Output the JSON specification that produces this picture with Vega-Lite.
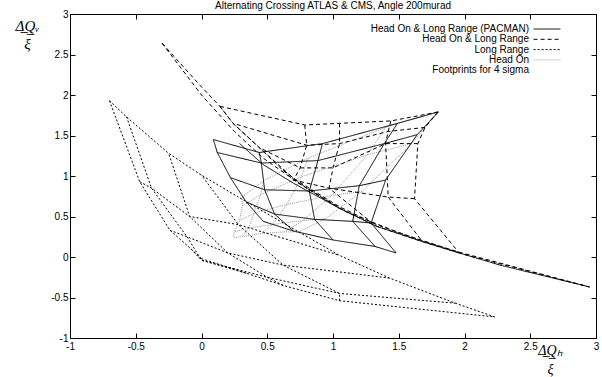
{
  "$schema": "https://vega.github.io/schema/vega-lite/v6.json",
  "width": 526,
  "height": 324,
  "autosize": {"type": "none"},
  "padding": {"left": 70, "top": 14, "right": 6, "bottom": 39},
  "background": "white",
  "config": {
    "view": {"stroke": "black", "strokeWidth": 1},
    "font": "Liberation Sans",
    "axis": {"grid": false, "domain": false, "tickColor": "black", "tickSize": -5, "labelFont": "Liberation Sans", "labelFontSize": 10, "labelColor": "black", "labelFlush": false, "labelOverlap": false, "format": "~g"}
  },
  "title": {"text": "Alternating Crossing ATLAS & CMS, Angle 200murad", "font": "Liberation Sans", "fontSize": 10, "fontWeight": "normal", "offset": -2},
  "datasets": {
    "fp": [
      {"s":"H","l":"Hc0","o":0,"x":1.80,"y":1.80},{"s":"H","l":"Hc0","o":1,"x":1.60,"y":1.40},{"s":"H","l":"Hc0","o":2,"x":1.22,"y":0.81},{"s":"H","l":"Hc0","o":3,"x":0.94,"y":0.47},{"s":"H","l":"Hc0","o":4,"x":0.74,"y":0.31},
      {"s":"H","l":"Hc1","o":0,"x":1.40,"y":1.60},{"s":"H","l":"Hc1","o":1,"x":1.26,"y":1.26},{"s":"H","l":"Hc1","o":2,"x":0.99,"y":0.76},{"s":"H","l":"Hc1","o":3,"x":0.77,"y":0.45},{"s":"H","l":"Hc1","o":4,"x":0.63,"y":0.31},
      {"s":"H","l":"Hc2","o":0,"x":0.81,"y":1.22},{"s":"H","l":"Hc2","o":1,"x":0.76,"y":0.99},{"s":"H","l":"Hc2","o":2,"x":0.65,"y":0.65},{"s":"H","l":"Hc2","o":3,"x":0.54,"y":0.40},{"s":"H","l":"Hc2","o":4,"x":0.45,"y":0.29},
      {"s":"H","l":"Hc3","o":0,"x":0.47,"y":0.94},{"s":"H","l":"Hc3","o":1,"x":0.45,"y":0.77},{"s":"H","l":"Hc3","o":2,"x":0.40,"y":0.54},{"s":"H","l":"Hc3","o":3,"x":0.36,"y":0.36},{"s":"H","l":"Hc3","o":4,"x":0.31,"y":0.25},
      {"s":"H","l":"Hc4","o":0,"x":0.31,"y":0.74},{"s":"H","l":"Hc4","o":1,"x":0.31,"y":0.63},{"s":"H","l":"Hc4","o":2,"x":0.29,"y":0.45},{"s":"H","l":"Hc4","o":3,"x":0.25,"y":0.31},{"s":"H","l":"Hc4","o":4,"x":0.24,"y":0.24},
      {"s":"H","l":"Hr0","o":0,"x":1.80,"y":1.80},{"s":"H","l":"Hr0","o":1,"x":1.40,"y":1.60},{"s":"H","l":"Hr0","o":2,"x":0.81,"y":1.22},{"s":"H","l":"Hr0","o":3,"x":0.47,"y":0.94},{"s":"H","l":"Hr0","o":4,"x":0.31,"y":0.74},
      {"s":"H","l":"Hr1","o":0,"x":1.60,"y":1.40},{"s":"H","l":"Hr1","o":1,"x":1.26,"y":1.26},{"s":"H","l":"Hr1","o":2,"x":0.76,"y":0.99},{"s":"H","l":"Hr1","o":3,"x":0.45,"y":0.77},{"s":"H","l":"Hr1","o":4,"x":0.31,"y":0.63},
      {"s":"H","l":"Hr2","o":0,"x":1.22,"y":0.81},{"s":"H","l":"Hr2","o":1,"x":0.99,"y":0.76},{"s":"H","l":"Hr2","o":2,"x":0.65,"y":0.65},{"s":"H","l":"Hr2","o":3,"x":0.40,"y":0.54},{"s":"H","l":"Hr2","o":4,"x":0.29,"y":0.45},
      {"s":"H","l":"Hr3","o":0,"x":0.94,"y":0.47},{"s":"H","l":"Hr3","o":1,"x":0.77,"y":0.45},{"s":"H","l":"Hr3","o":2,"x":0.54,"y":0.40},{"s":"H","l":"Hr3","o":3,"x":0.36,"y":0.36},{"s":"H","l":"Hr3","o":4,"x":0.25,"y":0.31},
      {"s":"H","l":"Hr4","o":0,"x":0.74,"y":0.31},{"s":"H","l":"Hr4","o":1,"x":0.63,"y":0.31},{"s":"H","l":"Hr4","o":2,"x":0.45,"y":0.29},{"s":"H","l":"Hr4","o":3,"x":0.31,"y":0.25},{"s":"H","l":"Hr4","o":4,"x":0.24,"y":0.24},

      {"s":"L","l":"Lc0","o":0,"x":0.00,"y":-0.02},{"s":"L","l":"Lc0","o":1,"x":0.34,"y":-0.20},{"s":"L","l":"Lc0","o":2,"x":0.62,"y":-0.35},{"s":"L","l":"Lc0","o":3,"x":1.05,"y":-0.54},{"s":"L","l":"Lc0","o":4,"x":2.23,"y":-0.74},
      {"s":"L","l":"Lc1","o":0,"x":-0.08,"y":0.10},{"s":"L","l":"Lc1","o":1,"x":0.00,"y":-0.04},{"s":"L","l":"Lc1","o":2,"x":0.50,"y":-0.25},{"s":"L","l":"Lc1","o":3,"x":1.05,"y":-0.45},{"s":"L","l":"Lc1","o":4,"x":1.93,"y":-0.57},
      {"s":"L","l":"Lc2","o":0,"x":-0.24,"y":0.33},{"s":"L","l":"Lc2","o":1,"x":-0.11,"y":0.25},{"s":"L","l":"Lc2","o":2,"x":0.20,"y":0.05},{"s":"L","l":"Lc2","o":3,"x":0.62,"y":-0.10},{"s":"L","l":"Lc2","o":4,"x":1.43,"y":-0.26},
      {"s":"L","l":"Lc3","o":0,"x":-0.47,"y":0.93},{"s":"L","l":"Lc3","o":1,"x":-0.38,"y":0.85},{"s":"L","l":"Lc3","o":2,"x":-0.09,"y":0.50},{"s":"L","l":"Lc3","o":3,"x":0.28,"y":0.40},{"s":"L","l":"Lc3","o":4,"x":1.05,"y":0.02},
      {"s":"L","l":"Lc4","o":0,"x":-0.70,"y":1.93},{"s":"L","l":"Lc4","o":1,"x":-0.57,"y":1.73},{"s":"L","l":"Lc4","o":2,"x":-0.25,"y":1.28},{"s":"L","l":"Lc4","o":3,"x":0.00,"y":1.01},{"s":"L","l":"Lc4","o":4,"x":0.28,"y":0.74},
      {"s":"L","l":"Lr0","o":0,"x":0.00,"y":-0.02},{"s":"L","l":"Lr0","o":1,"x":-0.08,"y":0.10},{"s":"L","l":"Lr0","o":2,"x":-0.24,"y":0.33},{"s":"L","l":"Lr0","o":3,"x":-0.47,"y":0.93},{"s":"L","l":"Lr0","o":4,"x":-0.70,"y":1.93},
      {"s":"L","l":"Lr1","o":0,"x":0.34,"y":-0.20},{"s":"L","l":"Lr1","o":1,"x":0.00,"y":-0.04},{"s":"L","l":"Lr1","o":2,"x":-0.11,"y":0.25},{"s":"L","l":"Lr1","o":3,"x":-0.38,"y":0.85},{"s":"L","l":"Lr1","o":4,"x":-0.57,"y":1.73},
      {"s":"L","l":"Lr2","o":0,"x":0.62,"y":-0.35},{"s":"L","l":"Lr2","o":1,"x":0.50,"y":-0.25},{"s":"L","l":"Lr2","o":2,"x":0.20,"y":0.05},{"s":"L","l":"Lr2","o":3,"x":-0.09,"y":0.50},{"s":"L","l":"Lr2","o":4,"x":-0.25,"y":1.28},
      {"s":"L","l":"Lr3","o":0,"x":1.05,"y":-0.54},{"s":"L","l":"Lr3","o":1,"x":1.05,"y":-0.45},{"s":"L","l":"Lr3","o":2,"x":0.62,"y":-0.10},{"s":"L","l":"Lr3","o":3,"x":0.28,"y":0.40},{"s":"L","l":"Lr3","o":4,"x":0.00,"y":1.01},
      {"s":"L","l":"Lr4","o":0,"x":2.23,"y":-0.74},{"s":"L","l":"Lr4","o":1,"x":1.93,"y":-0.57},{"s":"L","l":"Lr4","o":2,"x":1.43,"y":-0.26},{"s":"L","l":"Lr4","o":3,"x":1.05,"y":0.02},{"s":"L","l":"Lr4","o":4,"x":0.28,"y":0.74},

      {"s":"D","l":"Dc0","o":0,"x":1.80,"y":1.79},{"s":"D","l":"Dc0","o":1,"x":1.70,"y":1.60},{"s":"D","l":"Dc0","o":2,"x":1.645,"y":1.40},{"s":"D","l":"Dc0","o":3,"x":1.62,"y":0.72},{"s":"D","l":"Dc0","o":4,"x":1.96,"y":0.05},
      {"s":"D","l":"Dc1","o":0,"x":1.44,"y":1.68},{"s":"D","l":"Dc1","o":1,"x":1.42,"y":1.55},{"s":"D","l":"Dc1","o":2,"x":1.40,"y":1.40},{"s":"D","l":"Dc1","o":3,"x":1.42,"y":0.74},{"s":"D","l":"Dc1","o":4,"x":1.68,"y":0.19},
      {"s":"D","l":"Dc2","o":0,"x":1.05,"y":1.65},{"s":"D","l":"Dc2","o":1,"x":1.05,"y":1.40},{"s":"D","l":"Dc2","o":2,"x":1.00,"y":1.10},{"s":"D","l":"Dc2","o":3,"x":0.97,"y":0.85},{"s":"D","l":"Dc2","o":4,"x":1.33,"y":0.38},
      {"s":"D","l":"Dc3","o":0,"x":0.785,"y":1.63},{"s":"D","l":"Dc3","o":1,"x":0.80,"y":1.38},{"s":"D","l":"Dc3","o":2,"x":0.75,"y":1.10},{"s":"D","l":"Dc3","o":3,"x":0.70,"y":0.95},{"s":"D","l":"Dc3","o":4,"x":1.05,"y":0.60},
      {"s":"D","l":"Dc4","o":0,"x":0.14,"y":1.86},{"s":"D","l":"Dc4","o":1,"x":0.24,"y":1.65},{"s":"D","l":"Dc4","o":2,"x":0.44,"y":1.35},{"s":"D","l":"Dc4","o":3,"x":0.60,"y":1.10},{"s":"D","l":"Dc4","o":4,"x":0.80,"y":0.85},
      {"s":"D","l":"Dr0","o":0,"x":1.80,"y":1.79},{"s":"D","l":"Dr0","o":1,"x":1.44,"y":1.68},{"s":"D","l":"Dr0","o":2,"x":1.05,"y":1.65},{"s":"D","l":"Dr0","o":3,"x":0.785,"y":1.63},{"s":"D","l":"Dr0","o":4,"x":0.14,"y":1.86},
      {"s":"D","l":"Dr1","o":0,"x":1.70,"y":1.60},{"s":"D","l":"Dr1","o":1,"x":1.42,"y":1.55},{"s":"D","l":"Dr1","o":2,"x":1.05,"y":1.40},{"s":"D","l":"Dr1","o":3,"x":0.80,"y":1.38},{"s":"D","l":"Dr1","o":4,"x":0.24,"y":1.65},
      {"s":"D","l":"Dr2","o":0,"x":1.645,"y":1.40},{"s":"D","l":"Dr2","o":1,"x":1.40,"y":1.40},{"s":"D","l":"Dr2","o":2,"x":1.00,"y":1.10},{"s":"D","l":"Dr2","o":3,"x":0.75,"y":1.10},{"s":"D","l":"Dr2","o":4,"x":0.44,"y":1.35},
      {"s":"D","l":"Dr3","o":0,"x":1.62,"y":0.72},{"s":"D","l":"Dr3","o":1,"x":1.42,"y":0.74},{"s":"D","l":"Dr3","o":2,"x":0.97,"y":0.85},{"s":"D","l":"Dr3","o":3,"x":0.70,"y":0.95},{"s":"D","l":"Dr3","o":4,"x":0.60,"y":1.10},
      {"s":"D","l":"Dr4","o":0,"x":1.96,"y":0.05},{"s":"D","l":"Dr4","o":1,"x":1.68,"y":0.19},{"s":"D","l":"Dr4","o":2,"x":1.33,"y":0.38},{"s":"D","l":"Dr4","o":3,"x":1.05,"y":0.60},{"s":"D","l":"Dr4","o":4,"x":0.80,"y":0.85},
      {"s":"D","l":"DlA","o":0,"x":-0.30,"y":2.64},{"s":"D","l":"DlA","o":1,"x":0.00,"y":2.10},{"s":"D","l":"DlA","o":2,"x":0.14,"y":1.86},{"s":"D","l":"DlA","o":3,"x":0.24,"y":1.65},{"s":"D","l":"DlA","o":4,"x":0.44,"y":1.35},{"s":"D","l":"DlA","o":5,"x":0.70,"y":0.97},{"s":"D","l":"DlA","o":6,"x":1.05,"y":0.62},{"s":"D","l":"DlA","o":7,"x":1.33,"y":0.40},{"s":"D","l":"DlA","o":8,"x":1.68,"y":0.20},{"s":"D","l":"DlA","o":9,"x":1.96,"y":0.06},{"s":"D","l":"DlA","o":10,"x":2.95,"y":-0.37},
      {"s":"D","l":"DlB","o":0,"x":-0.30,"y":2.64},{"s":"D","l":"DlB","o":1,"x":0.00,"y":2.00},{"s":"D","l":"DlB","o":2,"x":0.25,"y":1.55},{"s":"D","l":"DlB","o":3,"x":0.47,"y":1.22},{"s":"D","l":"DlB","o":4,"x":0.75,"y":0.90},{"s":"D","l":"DlB","o":5,"x":1.10,"y":0.56},{"s":"D","l":"DlB","o":6,"x":1.50,"y":0.30},{"s":"D","l":"DlB","o":7,"x":2.00,"y":0.03},{"s":"D","l":"DlB","o":8,"x":2.95,"y":-0.37},

      {"s":"P","l":"Pc0","o":0,"x":1.80,"y":1.79},{"s":"P","l":"Pc0","o":1,"x":1.64,"y":1.51},{"s":"P","l":"Pc0","o":2,"x":1.40,"y":0.95},{"s":"P","l":"Pc0","o":3,"x":1.29,"y":0.42},{"s":"P","l":"Pc0","o":4,"x":1.48,"y":0.05},
      {"s":"P","l":"Pc1","o":0,"x":1.49,"y":1.65},{"s":"P","l":"Pc1","o":1,"x":1.39,"y":1.40},{"s":"P","l":"Pc1","o":2,"x":1.20,"y":0.88},{"s":"P","l":"Pc1","o":3,"x":1.15,"y":0.44},{"s":"P","l":"Pc1","o":4,"x":1.32,"y":0.13},
      {"s":"P","l":"Pc2","o":0,"x":0.92,"y":1.40},{"s":"P","l":"Pc2","o":1,"x":0.885,"y":1.19},{"s":"P","l":"Pc2","o":2,"x":0.82,"y":0.815},{"s":"P","l":"Pc2","o":3,"x":0.86,"y":0.465},{"s":"P","l":"Pc2","o":4,"x":1.00,"y":0.21},
      {"s":"P","l":"Pc3","o":0,"x":0.44,"y":1.29},{"s":"P","l":"Pc3","o":1,"x":0.455,"y":1.16},{"s":"P","l":"Pc3","o":2,"x":0.48,"y":0.83},{"s":"P","l":"Pc3","o":3,"x":0.556,"y":0.53},{"s":"P","l":"Pc3","o":4,"x":0.70,"y":0.32},
      {"s":"P","l":"Pc4","o":0,"x":0.09,"y":1.45},{"s":"P","l":"Pc4","o":1,"x":0.12,"y":1.29},{"s":"P","l":"Pc4","o":2,"x":0.22,"y":0.98},{"s":"P","l":"Pc4","o":3,"x":0.34,"y":0.68},{"s":"P","l":"Pc4","o":4,"x":0.47,"y":0.44},
      {"s":"P","l":"Pr0","o":0,"x":1.80,"y":1.79},{"s":"P","l":"Pr0","o":1,"x":1.49,"y":1.65},{"s":"P","l":"Pr0","o":2,"x":0.92,"y":1.40},{"s":"P","l":"Pr0","o":3,"x":0.44,"y":1.29},{"s":"P","l":"Pr0","o":4,"x":0.09,"y":1.45},
      {"s":"P","l":"Pr1","o":0,"x":1.64,"y":1.51},{"s":"P","l":"Pr1","o":1,"x":1.39,"y":1.40},{"s":"P","l":"Pr1","o":2,"x":0.885,"y":1.19},{"s":"P","l":"Pr1","o":3,"x":0.455,"y":1.16},{"s":"P","l":"Pr1","o":4,"x":0.12,"y":1.29},
      {"s":"P","l":"Pr2","o":0,"x":1.40,"y":0.95},{"s":"P","l":"Pr2","o":1,"x":1.20,"y":0.88},{"s":"P","l":"Pr2","o":2,"x":0.82,"y":0.815},{"s":"P","l":"Pr2","o":3,"x":0.48,"y":0.83},{"s":"P","l":"Pr2","o":4,"x":0.22,"y":0.98},
      {"s":"P","l":"Pr3","o":0,"x":1.29,"y":0.42},{"s":"P","l":"Pr3","o":1,"x":1.15,"y":0.44},{"s":"P","l":"Pr3","o":2,"x":0.86,"y":0.465},{"s":"P","l":"Pr3","o":3,"x":0.556,"y":0.53},{"s":"P","l":"Pr3","o":4,"x":0.34,"y":0.68},
      {"s":"P","l":"Pr4","o":0,"x":1.48,"y":0.05},{"s":"P","l":"Pr4","o":1,"x":1.32,"y":0.13},{"s":"P","l":"Pr4","o":2,"x":1.00,"y":0.21},{"s":"P","l":"Pr4","o":3,"x":0.70,"y":0.32},{"s":"P","l":"Pr4","o":4,"x":0.47,"y":0.44},
      {"s":"P","l":"Pl","o":0,"x":0.29,"y":1.40},{"s":"P","l":"Pl","o":1,"x":0.47,"y":1.14},{"s":"P","l":"Pl","o":2,"x":0.70,"y":0.91},{"s":"P","l":"Pl","o":3,"x":1.05,"y":0.60},{"s":"P","l":"Pl","o":4,"x":1.33,"y":0.38},{"s":"P","l":"Pl","o":5,"x":1.68,"y":0.19},{"s":"P","l":"Pl","o":6,"x":1.96,"y":0.05},{"s":"P","l":"Pl","o":7,"x":2.27,"y":-0.10},{"s":"P","l":"Pl","o":8,"x":2.95,"y":-0.37}
    ]
  },
  "resolve": {"axis": {"x": "independent", "y": "independent"}},
  "layer": [
    {
      "mark": {"type": "rule", "stroke": "#444", "strokeWidth": 1, "strokeDash": [1, 2]},
      "encoding": {
        "x": {"datum": 0, "type": "quantitative", "scale": {"domain": [-1, 3], "nice": false, "zero": false},
          "axis": {"orient": "top", "values": [-1, -0.5, 0, 0.5, 1, 1.5, 2, 2.5, 3], "labels": false, "title": null}}
      }
    },
    {
      "mark": {"type": "rule", "stroke": "#444", "strokeWidth": 1, "strokeDash": [1, 2]},
      "encoding": {
        "y": {"datum": 0, "type": "quantitative", "scale": {"domain": [-1, 3], "nice": false, "zero": false},
          "axis": {"orient": "right", "values": [-1, -0.5, 0, 0.5, 1, 1.5, 2, 2.5, 3], "labels": false, "title": null}}
      }
    },
    {
      "data": {"name": "fp"},
      "mark": {"type": "line", "strokeWidth": 1, "clip": true},
      "encoding": {
        "x": {"field": "x", "type": "quantitative", "scale": {"domain": [-1, 3], "nice": false, "zero": false},
          "axis": {"orient": "bottom", "values": [-1, -0.5, 0, 0.5, 1, 1.5, 2, 2.5, 3], "labelPadding": 8,
            "labelExpr": "replace(datum.label, '\u2212', '-')",
            "title": ["\u0394\u0332Q\u0332\u2095", "\u03be"], "titleFont": "Liberation Serif", "titleFontStyle": "italic", "titleFontWeight": "normal", "titleFontSize": 14, "titleX": 480, "titleY": 5, "titleBaseline": "top", "titleLineHeight": 19, "titleAlign": "center"}},
        "y": {"field": "y", "type": "quantitative", "scale": {"domain": [-1, 3], "nice": false, "zero": false},
          "axis": {"orient": "left", "values": [-1, -0.5, 0, 0.5, 1, 1.5, 2, 2.5, 3], "labelPadding": 7,
            "labelExpr": "replace(datum.label, '\u2212', '-')",
            "title": ["\u0394\u0332Q\u0332\u1d65", "\u03be"], "titleFont": "Liberation Serif", "titleFontStyle": "italic", "titleFontWeight": "normal", "titleFontSize": 15, "titleAngle": 0, "titleX": -43, "titleY": 4, "titleBaseline": "top", "titleLineHeight": 18, "titleAlign": "center"}},
        "detail": {"field": "l"},
        "order": {"field": "o", "type": "quantitative"},
        "color": {"field": "s", "type": "nominal",
          "scale": {"domain": ["P", "D", "L", "H", "F"], "range": ["black", "black", "black", "#999999", "white"]},
          "legend": {"orient": "none", "legendX": 472, "legendY": 10, "symbolType": "M-3,0H3", "symbolSize": 80, "symbolStrokeWidth": 1,
            "labelAlign": "right", "labelOffset": -23, "labelFontSize": 10, "labelFont": "Liberation Sans", "labelLimit": 0, "rowPadding": 0.3, "padding": 0, "title": null,
            "labelExpr": "{'P': 'Head On & Long Range (PACMAN)', 'D': 'Head On & Long Range', 'L': 'Long Range', 'H': 'Head On', 'F': 'Footprints for 4 sigma'}[datum.label]"}},
        "strokeDash": {"field": "s", "type": "nominal",
          "scale": {"domain": ["P", "D", "L", "H", "F"], "range": [[1, 0], [4, 3], [2, 2], [1, 1], [1, 0]]},
          "legend": null}
      }
    }
  ]
}
